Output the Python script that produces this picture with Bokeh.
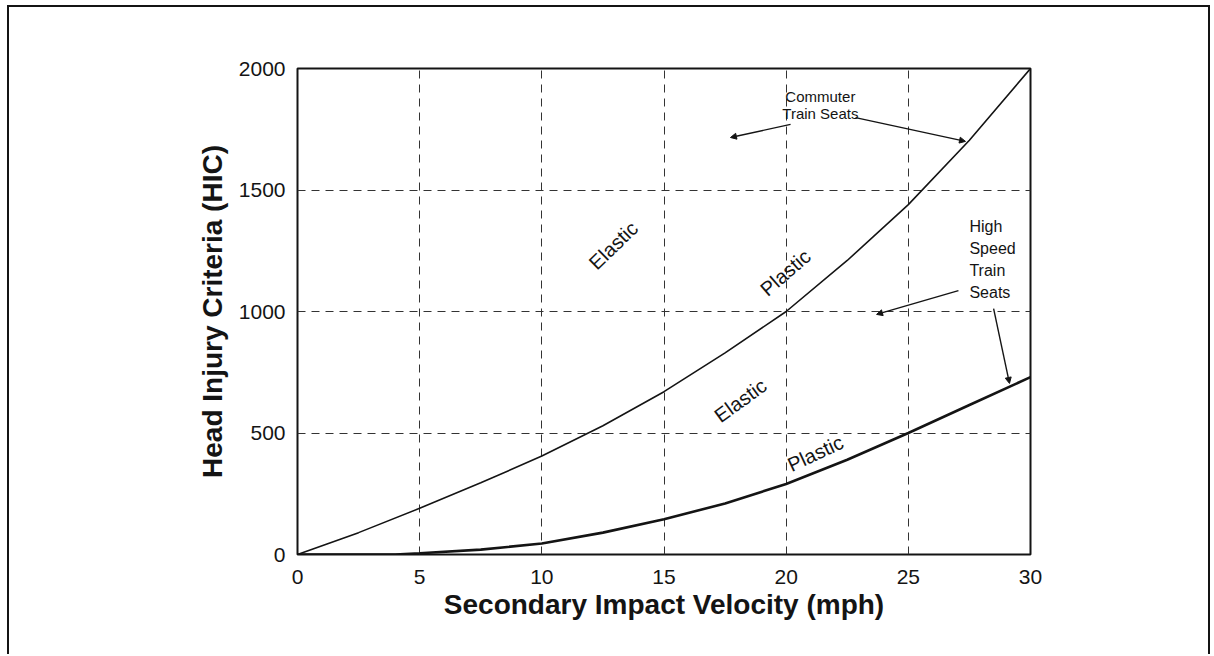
from bokeh.plotting import figure
from bokeh.models import FixedTicker, Arrow, NormalHead, Range1d
from bokeh.core.properties import value
from bokeh.embed import file_html
from bokeh.resources import INLINE

# Secondary impact velocity (mph) and resulting head injury criteria
velocity = [0, 2.5, 5, 7.5, 10, 12.5, 15, 17.5, 20, 22.5, 25, 27.5, 30]
hic_commuter = [0, 90, 190, 295, 405, 530, 670, 830, 1000, 1210, 1440, 1705, 2000]
velocity_hs = [0, 2.5, 4, 5, 7.5, 10, 12.5, 15, 17.5, 20, 22.5, 25, 27.5, 30]
hic_high_speed = [0, 0, 0, 5, 20, 45, 90, 145, 210, 290, 390, 500, 615, 730]

x_ticks = [0, 5, 10, 15, 20, 25, 30]
y_ticks = [0, 500, 1000, 1500, 2000]

# Region labels along the curves: text, x, y, angle (deg)
region_text = ["Elastic", "Plastic", "Elastic", "Plastic"]
region_x = [12.93, 19.97, 18.13, 21.2]
region_y = [1272, 1160, 634, 416]
region_angle = [44, 41, 36, 25]

# Callout labels
callout_text = ["Commuter", "Train Seats"]
callout_x = [21.4, 21.4]
callout_y = [1885, 1815]
hs_text = ["High", "Speed", "Train", "Seats"]
hs_x = [27.5, 27.5, 27.5, 27.5]
hs_y = [1350, 1259, 1169, 1078]

# Leader arrows (x_start, y_start, x_end, y_end)
arrows = [
    (20.18, 1770, 17.72, 1716),
    (22.84, 1798, 27.34, 1700),
    (27.05, 1086, 23.70, 988),
    (28.49, 1012, 29.14, 704),
]

FONT = "Liberation Sans"
INK = "#141414"

# Page frame drawn as CSS borders on the host element (left, top, right)
page_styles = {
    "margin-left": "7px",
    "margin-top": "5px",
    "border-left": f"2px solid {INK}",
    "border-top": f"2px solid {INK}",
    "border-right": f"2px solid {INK}",
}

p = figure(width=1203, height=649, output_backend="svg", toolbar_location=None,
           x_range=Range1d(0, 30), y_range=Range1d(0, 2000),
           min_border_left=288, min_border_right=182,
           min_border_top=61, min_border_bottom=102,
           styles=page_styles)

p.outline_line_color = INK
p.outline_line_width = 2
p.background_fill_color = "white"
p.border_fill_color = "white"

for ax in (p.xaxis, p.yaxis):
    ax.axis_line_color = None
    ax.major_tick_line_color = None
    ax.minor_tick_line_color = None
    ax.major_label_text_font = FONT
    ax.major_label_text_font_size = "21px"
    ax.major_label_text_color = INK
    ax.axis_label_text_font = FONT
    ax.axis_label_text_font_style = "bold"
    ax.axis_label_text_font_size = "28px"
    ax.axis_label_text_color = INK

p.xaxis.ticker = FixedTicker(ticks=x_ticks)
p.yaxis.ticker = FixedTicker(ticks=y_ticks)
p.xaxis.major_label_standoff = 9
p.yaxis.major_label_standoff = 6
p.xaxis.axis_label = "Secondary Impact Velocity (mph)"
p.yaxis.axis_label = "Head Injury Criteria (HIC)"
p.xaxis.axis_label_standoff = 2
p.yaxis.axis_label_standoff = 8

for g in (p.xgrid, p.ygrid):
    g.grid_line_color = "#333333"
    g.grid_line_width = 1
    g.grid_line_dash = "8 6"

p.line(velocity, hic_commuter, line_color=INK, line_width=1.6)
p.line(velocity_hs, hic_high_speed, line_color=INK, line_width=2.6)

p.text(x=region_x, y=region_y, text=region_text, angle=region_angle, angle_units="deg",
       text_font=value(FONT), text_font_size="20px", text_color=INK,
       text_align="center", text_baseline="middle")

p.text(x=callout_x, y=callout_y, text=callout_text,
       text_font=value(FONT), text_font_size="15px", text_color=INK,
       text_align="center", text_baseline="middle")

p.text(x=hs_x, y=hs_y, text=hs_text,
       text_font=value(FONT), text_font_size="16px", text_color=INK,
       text_align="left", text_baseline="middle")

for x0, y0, x1, y1 in arrows:
    p.add_layout(Arrow(x_start=x0, y_start=y0, x_end=x1, y_end=y1,
                       line_color=INK, line_width=1.4,
                       end=NormalHead(size=6, line_color=INK, fill_color=INK)))

open("out.html", "w").write(file_html(p, INLINE))
